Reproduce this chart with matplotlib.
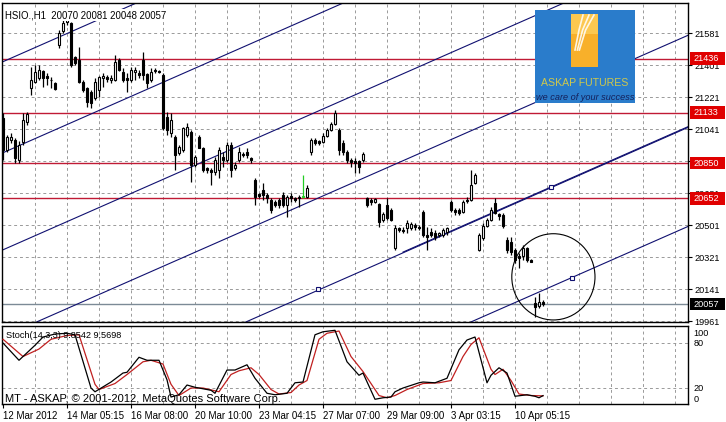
import matplotlib
matplotlib.use('Agg')
import matplotlib.pyplot as plt
from matplotlib.patches import Ellipse, Rectangle
from matplotlib.transforms import blended_transform_factory

plt.rcParams['font.family'] = ['Liberation Sans', 'DejaVu Sans']

# HSIO H1 bars, 12 Mar - 10 Apr 2012
opens = [21103, 20923, 20980, 20980, 20867, 20968, 21081, 21272, 21306, 21328,
         21368, 21340, 21317, 21300, 21514, 21593, 21643, 21638, 21446, 21430,
         21306, 21272, 21250, 21216, 21261, 21328, 21334, 21317, 21317, 21430,
         21362, 21328, 21317, 21362, 21356, 21430, 21351, 21317, 21368, 21368,
         21345, 21109, 21019, 20996, 20906, 20923, 21008, 21025, 20839, 20996,
         20935, 20822, 20811, 20800, 20811, 20884, 20867, 20951, 20822, 20867,
         20901, 20912, 20878, 20755, 20676, 20698, 20670, 20642, 20631, 20642,
         20670, 20614, 20665, 20653, 20653, 20659, 20659, 20912, 20980, 20974,
         20968, 21002, 21036, 21070, 21036, 20963, 20912, 20867, 20861, 20861,
         20867, 20653, 20642, 20631, 20620, 20530, 20614, 20586, 20372, 20485,
         20473, 20485, 20485, 20501, 20490, 20575, 20445, 20462, 20456, 20445,
         20445, 20462, 20631, 20586, 20586, 20575, 20642, 20642, 20738, 20361,
         20428, 20496, 20530, 20625, 20563, 20558, 20417, 20406, 20361, 20327,
         20327, 20372, 20305, 20063, 20046, 20070]
highs = [21131, 21008, 21019, 20991, 20974, 21131, 21137, 21390, 21401, 21401,
         21373, 21356, 21334, 21306, 21598, 21666, 21671, 21643, 21452, 21503,
         21317, 21278, 21261, 21328, 21340, 21356, 21345, 21345, 21458, 21441,
         21384, 21356, 21390, 21390, 21373, 21474, 21356, 21384, 21384, 21373,
         21356, 21137, 21131, 21008, 20951, 21053, 21075, 21036, 20895, 21008,
         20940, 20828, 20822, 20884, 20940, 20912, 20968, 20968, 20856, 20940,
         20912, 20935, 20884, 20766, 20681, 20738, 20681, 20653, 20642, 20653,
         20687, 20670, 20681, 20659, 20670, 20783, 20726, 20991, 20991, 20980,
         21019, 21047, 21081, 21148, 21047, 20980, 20923, 20878, 20878, 20867,
         20912, 20659, 20653, 20653, 20625, 20575, 20653, 20597, 20501, 20490,
         20490, 20530, 20518, 20513, 20501, 20586, 20490, 20485, 20473, 20462,
         20485, 20490, 20642, 20597, 20597, 20642, 20659, 20811, 20794, 20456,
         20513, 20541, 20603, 20653, 20569, 20569, 20434, 20434, 20372, 20344,
         20389, 20378, 20310, 20097, 20119, 20081]
lows = [20867, 20912, 20963, 20850, 20850, 20951, 21064, 21233, 21300, 21317,
        21278, 21289, 21272, 21261, 21497, 21581, 21626, 21390, 21401, 21300,
        21250, 21165, 21160, 21205, 21221, 21278, 21306, 21300, 21310, 21368,
        21306, 21250, 21306, 21317, 21328, 21317, 21272, 21306, 21356, 21356,
        21036, 21008, 20996, 20811, 20895, 20912, 20996, 20743, 20828, 20935,
        20800, 20794, 20726, 20783, 20766, 20828, 20856, 20771, 20811, 20856,
        20884, 20878, 20850, 20614, 20653, 20642, 20625, 20569, 20603, 20597,
        20603, 20546, 20631, 20631, 20603, 20653, 20653, 20895, 20951, 20951,
        20963, 20996, 21030, 21064, 20895, 20895, 20850, 20828, 20794, 20794,
        20856, 20603, 20614, 20625, 20490, 20518, 20530, 20525, 20361, 20462,
        20456, 20456, 20473, 20473, 20473, 20434, 20361, 20434, 20417, 20434,
        20434, 20445, 20575, 20558, 20558, 20569, 20625, 20636, 20732, 20355,
        20417, 20490, 20524, 20563, 20530, 20485, 20344, 20333, 20288, 20260,
        20305, 20293, 20293, 19984, 20035, 20048]
closes = [20923, 20996, 20996, 20878, 20951, 21092, 21126, 21317, 21362, 21373,
          21328, 21328, 21315, 21266, 21581, 21638, 21655, 21401, 21413, 21306,
          21261, 21193, 21188, 21306, 21334, 21340, 21323, 21328, 21418, 21373,
          21317, 21317, 21373, 21373, 21345, 21345, 21300, 21362, 21373, 21362,
          21047, 21036, 21092, 20895, 20940, 21047, 21053, 20839, 20884, 20935,
          20811, 20811, 20800, 20867, 20923, 20867, 20951, 20811, 20839, 20912,
          20895, 20895, 20867, 20659, 20665, 20670, 20653, 20586, 20614, 20614,
          20614, 20659, 20653, 20642, 20659, 20665, 20710, 20980, 20963, 20963,
          21002, 21036, 21070, 21131, 20923, 20912, 20867, 20856, 20850, 20828,
          20901, 20614, 20631, 20648, 20518, 20563, 20541, 20530, 20485, 20473,
          20468, 20513, 20507, 20490, 20485, 20445, 20434, 20445, 20434, 20456,
          20473, 20485, 20586, 20575, 20569, 20631, 20636, 20726, 20783, 20445,
          20496, 20530, 20586, 20569, 20552, 20496, 20361, 20350, 20305, 20316,
          20372, 20305, 20295, 20040, 20068, 20057]
highlight_bar = 75

red_levels = [21436, 21133, 20850, 20652]
last_price = 20057
price_ticks = [21581, 21401, 21221, 21041, 20861, 20681, 20501, 20321, 20141, 19961]

date_bars = [0, 16, 32, 48, 64, 80, 96, 112, 128]
date_labels = ['12 Mar 2012', '14 Mar 05:15', '16 Mar 08:00', '20 Mar 10:00',
               '23 Mar 04:15', '27 Mar 07:00', '29 Mar 09:00', '3 Apr 03:15',
               '10 Apr 05:15']

# parallel channel lines: price at bar 0, common slope per bar
channel_p0 = [21420, 20908, 20362, 19873, 19355, 18798]
channel_slope = 9.9
anchor_bars = [78.75, 137, 142.25]
anchor_prices = [20141, 20715, 20203]
circle_bar, circle_price = 137.6, 20210

# Stochastic(14,3,3)
k_bars = [0, 4, 8, 10, 13, 16, 18, 22, 23, 27, 30, 31, 34, 36, 39, 41, 42, 44, 46,
          48, 52, 53, 56, 58, 61, 63, 66, 68, 71, 73, 75, 78, 80, 83, 86, 89, 90,
          93, 95, 97, 98, 100, 104, 105, 108, 111, 114, 116, 118, 121, 122, 124,
          126, 128, 131, 133, 134, 135]
k_vals = [80, 57, 77, 88, 92, 93, 91, 20, 15, 28, 40, 41, 61, 57, 57, 31, 8, 11, 24,
          21, 17, 13, 44, 44, 51, 33, 13, 11, 13, 27, 28, 91, 95, 97, 55, 37, 40,
          5, 7, 8, 15, 20, 27, 28, 27, 33, 71, 84, 88, 27, 37, 47,
          40, 9, 11, 9, 7, 9.85]
d_bars = [0, 5, 9, 12, 16, 19, 23, 24, 28, 31, 35, 37, 40, 42, 44, 47, 50, 54, 57,
          59, 62, 64, 67, 69, 72, 74, 76, 79, 81, 84, 87, 90, 94, 96, 98, 101, 105,
          109, 112, 115, 117, 119, 122, 123, 125, 127, 129, 132, 135]
d_vals = [85, 62, 72, 85, 90, 91, 25, 18, 26, 38, 55, 57, 52, 25, 10, 20, 20, 15, 38,
          43, 47, 38, 18, 12, 14, 24, 30, 85, 93, 96, 62, 42, 10, 7, 10, 18, 26,
          27, 30, 62, 78, 87, 45, 38, 45, 30, 12, 10, 9.57]

W, H = 726, 422


def px_rect(x0, y0, x1, y1):
    return [x0 / W, 1 - y1 / H, (x1 - x0) / W, (y1 - y0) / H]


fig = plt.figure(figsize=(W / 100, H / 100), dpi=100)
ax = fig.add_axes(px_rect(2, 3, 688, 322))
ax2 = fig.add_axes(px_rect(2, 326, 688, 404))

grid_kw = dict(color='#9a9a9a', linestyle=(0, (3, 3)), linewidth=0.7)
for a in (ax, ax2):
    a.set_xlim(-0.25, 171.25)
    a.set_xticks(range(8, 171, 8))
    a.tick_params(axis='x', which='major', length=0, labelbottom=False)
    a.grid(True, which='major', **grid_kw)
    a.set_axisbelow(True)
    for s in a.spines.values():
        s.set_linewidth(1.0)

ax.set_ylim(19956, 21750)
ax.yaxis.tick_right()
ax.set_yticks(price_ticks)
ax.set_yticklabels([str(p) for p in price_ticks])
ax.tick_params(axis='y', length=3, width=0.8, pad=1.5, labelsize=6.6)

# horizontal levels
for lv in red_levels:
    ax.axhline(lv, color='#c01a35', linewidth=1.0, zorder=2)
ax.axhline(last_price, color='#7c8a96', linewidth=1.0, zorder=2)

# channel lines
for p0 in channel_p0:
    ax.axline((0, p0), slope=channel_slope, color='#101070', linewidth=0.8, zorder=2)
ax.plot([100, 172], [channel_p0[4] + channel_slope * 100 + 4,
                     channel_p0[4] + channel_slope * 172 + 4],
        color='#101070', linewidth=0.8, zorder=2)
ax.plot(anchor_bars, anchor_prices, linestyle='none', marker='s', markersize=3.5,
        markerfacecolor='white', markeredgecolor='#101070', markeredgewidth=0.8, zorder=4)
ax.add_patch(Ellipse((circle_bar, circle_price), 20.8, 485, fill=False,
                     edgecolor='black', linewidth=0.8, zorder=4))

# candles
for i in range(len(opens)):
    o, h, l, c = opens[i], highs[i], lows[i], closes[i]
    col = '#22cc22' if i == highlight_bar else 'black'
    ax.vlines(i, l, h, color=col, linewidth=0.9, zorder=3)
    if c >= o:
        ax.bar(i, max(c - o, 1), bottom=o, width=0.62, facecolor='white',
               edgecolor=col, linewidth=0.8, zorder=3)
    else:
        ax.bar(i, o - c, bottom=c, width=0.62, facecolor=col,
               edgecolor=col, linewidth=0.8, zorder=3)

ax.text(0.004, 0.978, 'HSIO.,H1  20070 20081 20048 20057', transform=ax.transAxes,
        fontsize=6.9, va='top', ha='left', zorder=5,
        bbox=dict(facecolor='white', edgecolor='none', pad=0.5))

# price label boxes on the right axis
bt = blended_transform_factory(fig.transFigure, ax.transData)
for lv, bg in [(21436, '#e00000'), (21133, '#e00000'), (20850, '#e00000'),
               (20652, '#e00000'), (last_price, 'black')]:
    r = Rectangle((690 / W, lv - 36), 35 / W, 72, transform=bt, facecolor=bg,
                  edgecolor='none', clip_on=False, zorder=6)
    fig.add_artist(r)
    fig.text(693 / W, lv, str(lv), transform=bt, color='white', fontsize=6.6,
             va='center', ha='left', zorder=7)

# stochastic panel
ax2.set_ylim(-1.3, 102.7)
ax2.set_yticks([])
for lv in (20, 80):
    ax2.axhline(lv, **grid_kw, zorder=1)
ax2.plot(d_bars, d_vals, color='#c02020', linewidth=0.9, zorder=3)
ax2.plot(k_bars, k_vals, color='black', linewidth=0.9, zorder=3)
ax2.xaxis.remove_overlapping_locs = False
ax2.set_xticks(date_bars, minor=True)
ax2.set_xticklabels(date_labels, minor=True, ha='left', fontsize=7.0)
ax2.tick_params(axis='x', which='minor', length=3, width=0.8, pad=2)
ax2.text(0.006, 0.93, 'Stoch(14,3,3) 9.8542 9.5698', transform=ax2.transAxes,
         fontsize=6.6, va='top', ha='left', zorder=5)
ax2.text(0.005, 0.0, 'MT - ASKAP, \u00a9 2001-2012, MetaQuotes Software Corp.',
         transform=ax2.transAxes, fontsize=8.0, va='bottom', ha='left', zorder=5)
yt = blended_transform_factory(ax2.transAxes, ax2.transData)
for val, txt in [(93, '100'), (80, '80'), (20, '20'), (5, '0')]:
    ax2.text(1.008, val, txt, transform=yt, fontsize=6.6, va='center', ha='left',
             clip_on=False)

# logo
lg = fig.add_axes(px_rect(535, 10, 635, 103))
lg.set_xlim(0, 100)
lg.set_ylim(93, 0)
lg.set_facecolor('#2a7ccb')
lg.set_xticks([])
lg.set_yticks([])
for s in lg.spines.values():
    s.set_visible(False)
lg.add_patch(Rectangle((36, 4), 27, 53, facecolor='#f8b02a', edgecolor='none'))
lg.add_patch(Rectangle((36, 4), 27, 20, facecolor='#fcc850', edgecolor='none'))
for dx in (0, 6, 11):
    lg.plot([48 + dx, 44 + dx * 0.6, 40 + dx * 0.4], [5, 20, 40], color='white',
            linewidth=1.2, alpha=0.85)
lg.text(50, 73, 'ASKAP FUTURES', color='#cfc84c', fontsize=7.6, ha='center',
        va='center')
lg.text(50, 87, 'we care of your success', color='#14205a', fontsize=6.6,
        style='italic', ha='center', va='center')

fig.savefig('out.png', dpi=100, facecolor='white')
